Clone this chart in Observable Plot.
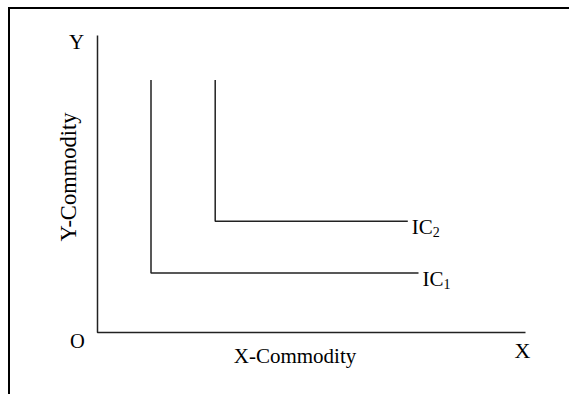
<!DOCTYPE html>
<html><head><meta charset="utf-8">
<script src="https://cdn.jsdelivr.net/npm/d3@7"></script>
<script src="https://cdn.jsdelivr.net/npm/@observablehq/plot@0.6"></script>
<style>
html,body{margin:0;padding:0;background:#fff;}
#wrap{position:relative;width:569px;height:394px;overflow:hidden;background:#fff;}
#wrap svg{display:block;}
#border{position:absolute;left:8px;top:7px;right:-10px;bottom:-10px;border-top:2.5px solid #000;border-left:2.5px solid #000;pointer-events:none;}
</style></head><body><div id="wrap"></div>
<script>
// axis extents (data units)
const axisMaxX = 20;
const axisMaxY = 20;
// indifference curves (right-angled, perfect complements)
const curveNames = ["IC1", "IC2"];
const cornerX = [2.5, 5.5];
const cornerY = [4, 7.5];
const topY = [17, 17];
const endX = [15, 14.5];
const labelMain = ["IC", "IC"];
const labelSub = ["1", "2"];
// axis letters and titles
const axisLetters = ["Y", "O", "X"];
const axisTitles = ["X-Commodity", "Y-Commodity"];

const curvePts = curveNames.flatMap((name, i) => [
  {name, x: cornerX[i], y: topY[i]},
  {name, x: cornerX[i], y: cornerY[i]},
  {name, x: endX[i], y: cornerY[i]}
]);
const axisPts = [{x: 0, y: axisMaxY}, {x: 0, y: 0}, {x: axisMaxX, y: 0}];
const curveLabels = curveNames.map((name, i) => ({x: endX[i], y: cornerY[i], main: labelMain[i], sub: labelSub[i]}));

const ink = "#000";
const lineStyle = {stroke: "#222", strokeWidth: 1.5, strokeLinejoin: "miter", strokeLinecap: "butt"};

const chart = Plot.plot({
  width: 569,
  height: 394,
  marginLeft: 97,
  marginRight: 44,
  marginTop: 35,
  marginBottom: 62,
  x: {domain: [0, axisMaxX], axis: null},
  y: {domain: [0, axisMaxY], axis: null},
  style: {fontFamily: "'Liberation Serif', 'Times New Roman', serif", background: "#fff", color: ink, overflow: "visible"},
  marks: [
    Plot.line(axisPts, {x: "x", y: "y", ...lineStyle}),
    Plot.line(curvePts, {x: "x", y: "y", z: "name", ...lineStyle}),
    // curve labels with subscripts
    Plot.text(curveLabels, {x: "x", y: "y", text: "main", dx: 4, dy: 13, textAnchor: "start", lineAnchor: "bottom", fontSize: 21, fill: ink}),
    Plot.text(curveLabels, {x: "x", y: "y", text: "sub", dx: 25, dy: 16, textAnchor: "start", lineAnchor: "bottom", fontSize: 14, fill: ink}),
    // axis letters
    Plot.text([{x: 0, y: axisMaxY, t: axisLetters[0]}], {x: "x", y: "y", text: "t", dx: -21, dy: 13.5, textAnchor: "middle", lineAnchor: "bottom", fontSize: 21, fill: ink}),
    Plot.text([{x: 0, y: 0, t: axisLetters[1]}], {x: "x", y: "y", text: "t", dx: -20, dy: 15, textAnchor: "middle", lineAnchor: "bottom", fontSize: 20.5, fill: ink}),
    Plot.text([{x: axisMaxX, y: 0, t: axisLetters[2]}], {x: "x", y: "y", text: "t", dx: -3, dy: 25, textAnchor: "middle", lineAnchor: "bottom", fontSize: 22, fill: ink}),
    // axis titles
    Plot.text([{x: axisMaxX / 2, y: 0, t: axisTitles[0]}], {x: "x", y: "y", text: "t", dx: -16.5, dy: 30, textAnchor: "middle", lineAnchor: "bottom", fontSize: 21, fill: ink}),
    Plot.text([{x: 0, y: axisMaxY / 2, t: axisTitles[1]}], {x: "x", y: "y", text: "t", rotate: -90, dx: -22, dy: -7, textAnchor: "middle", lineAnchor: "bottom", fontSize: 22.5, fill: ink})
  ]
});
const wrap = document.getElementById("wrap");
wrap.appendChild(chart);
const border = document.createElement("div");
border.id = "border";
wrap.appendChild(border);
</script>
</body></html>
